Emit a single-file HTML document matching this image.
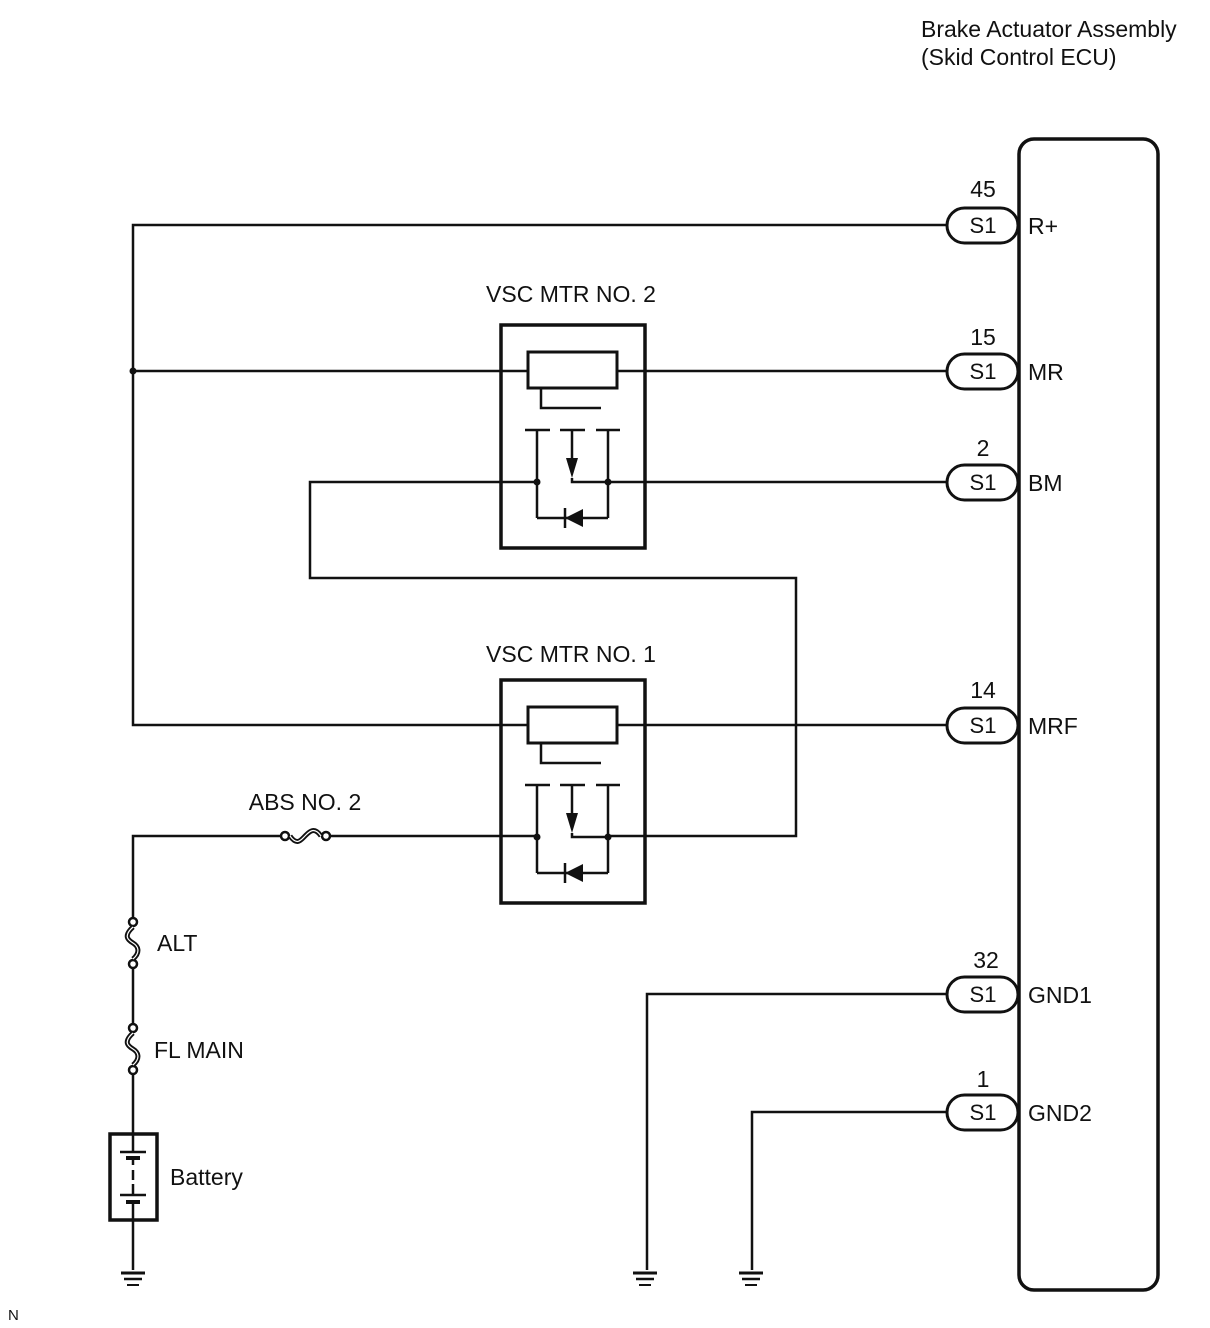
<!DOCTYPE html>
<html><head><meta charset="utf-8"><style>
html,body{margin:0;padding:0;background:#fff;}
svg{display:block;}
text{font-family:"Liberation Sans",sans-serif;fill:#111;}
</style></head><body>
<svg width="1210" height="1328" viewBox="0 0 1210 1328" xmlns="http://www.w3.org/2000/svg">
<defs>
<g id="relay" stroke="#111" fill="none">
  <rect x="501" y="325" width="144" height="223" stroke-width="3.5"/>
  <rect x="528" y="352" width="89" height="36" stroke-width="3"/>
  <polyline points="541,388 541,408 601,408" stroke-width="2.5"/>
  <line x1="525" y1="430" x2="550" y2="430" stroke-width="2.5"/>
  <line x1="560" y1="430" x2="585" y2="430" stroke-width="2.5"/>
  <line x1="596" y1="430" x2="620" y2="430" stroke-width="2.5"/>
  <line x1="537" y1="430" x2="537" y2="518" stroke-width="2.5"/>
  <line x1="608" y1="430" x2="608" y2="518" stroke-width="2.5"/>
  <line x1="572" y1="430" x2="572" y2="462" stroke-width="2.5"/>
  <polygon points="566,458 578,458 572,478" fill="#111" stroke="none"/>
  <polyline points="572,478 572,482 608,482" stroke-width="2.5"/>
  <line x1="537" y1="518" x2="608" y2="518" stroke-width="2.5"/>
  <polygon points="565,518 583,509 583,527" fill="#111" stroke="none"/>
  <line x1="565" y1="508" x2="565" y2="528" stroke-width="2.5"/>
  <circle cx="537" cy="482" r="3.5" fill="#111" stroke="none"/>
  <circle cx="608" cy="482" r="3.5" fill="#111" stroke="none"/>
</g>
<g id="gnd" stroke="#111">
  <line x1="-12" y1="0" x2="12" y2="0" stroke-width="3"/>
  <line x1="-9" y1="6" x2="9" y2="6" stroke-width="2.5"/>
  <line x1="-6" y1="12" x2="6" y2="12" stroke-width="2"/>
</g>
<g id="vfuse" fill="none" stroke="#111">
  <circle cx="0" cy="0" r="4" stroke-width="2.5" fill="#fff"/>
  <circle cx="0" cy="42" r="4" stroke-width="2.5" fill="#fff"/>
  <path d="M0,5 C-10,14 -5,18 0,21 C5,24 8,30 0,37" stroke-width="5"/>
  <path d="M0,5 C-10,14 -5,18 0,21 C5,24 8,30 0,37" stroke-width="1.2" stroke="#fff"/>
</g>
<g id="pill">
  <rect x="947" y="-17" width="71" height="35" rx="17.5" fill="#fff" stroke="#111" stroke-width="3"/>
  <text x="983" y="8" font-size="22" text-anchor="middle">S1</text>
</g>
</defs>

<g stroke="#111" stroke-width="2.5" fill="none">
  <polyline points="948,225 133,225 133,725 528,725"/>
  <line x1="133" y1="371" x2="528" y2="371"/>
  <line x1="617" y1="371" x2="948" y2="371"/>
  <line x1="608" y1="482" x2="948" y2="482"/>
  <polyline points="537,482 310,482 310,578 796,578 796,836 608,836"/>
  <line x1="617" y1="725" x2="948" y2="725"/>
  <line x1="537" y1="836" x2="330" y2="836"/>
  <polyline points="283,836 133,836 133,922"/>
  <line x1="133" y1="964" x2="133" y2="1028"/>
  <line x1="133" y1="1070" x2="133" y2="1270"/>
  <polyline points="948,994 647,994 647,1270"/>
  <polyline points="948,1112 752,1112 752,1270"/>
</g>
<circle cx="133" cy="371" r="3.5" fill="#111"/>

<use href="#relay"/>
<use href="#relay" transform="translate(0,355)"/>

<g fill="none" stroke="#111">
  <circle cx="285" cy="836" r="4" stroke-width="2.5" fill="#fff"/>
  <circle cx="326" cy="836" r="4" stroke-width="2.5" fill="#fff"/>
  <path d="M290,836 C297,846 301,840 305,836 C309,832 314,826 321,836" stroke-width="5"/>
  <path d="M290,836 C297,846 301,840 305,836 C309,832 314,826 321,836" stroke-width="1.2" stroke="#fff"/>
</g>

<use href="#vfuse" transform="translate(133,922)"/>
<use href="#vfuse" transform="translate(133,1028)"/>

<g stroke="#111">
  <rect x="110" y="1134" width="47" height="86" fill="#fff" stroke-width="3.5"/>
  <line x1="133" y1="1134" x2="133" y2="1152" stroke-width="2.5"/>
  <line x1="120" y1="1152" x2="146" y2="1152" stroke-width="2.5"/>
  <line x1="126" y1="1158" x2="140" y2="1158" stroke-width="4"/>
  <line x1="133" y1="1158" x2="133" y2="1165" stroke-width="2.5"/>
  <line x1="133" y1="1170" x2="133" y2="1180" stroke-width="2.5"/>
  <line x1="133" y1="1184" x2="133" y2="1195" stroke-width="2.5"/>
  <line x1="120" y1="1195" x2="146" y2="1195" stroke-width="2.5"/>
  <line x1="126" y1="1202" x2="140" y2="1202" stroke-width="4"/>
  <line x1="133" y1="1202" x2="133" y2="1220" stroke-width="2.5"/>
</g>

<use href="#gnd" transform="translate(133,1273)"/>
<use href="#gnd" transform="translate(645,1273)"/>
<use href="#gnd" transform="translate(751,1273)"/>

<rect x="1019" y="139" width="139" height="1151" rx="15" fill="none" stroke="#111" stroke-width="3.5"/>

<use href="#pill" transform="translate(0,225)"/>
<use href="#pill" transform="translate(0,371)"/>
<use href="#pill" transform="translate(0,482)"/>
<use href="#pill" transform="translate(0,725)"/>
<use href="#pill" transform="translate(0,994)"/>
<use href="#pill" transform="translate(0,1112)"/>

<g font-size="23">
  <text x="983" y="197" text-anchor="middle">45</text>
  <text x="983" y="345" text-anchor="middle">15</text>
  <text x="983" y="456" text-anchor="middle">2</text>
  <text x="983" y="698" text-anchor="middle">14</text>
  <text x="986" y="968" text-anchor="middle">32</text>
  <text x="983" y="1087" text-anchor="middle">1</text>
  <text x="1028" y="234">R+</text>
  <text x="1028" y="380">MR</text>
  <text x="1028" y="491">BM</text>
  <text x="1028" y="734">MRF</text>
  <text x="1028" y="1003">GND1</text>
  <text x="1028" y="1121">GND2</text>
  <text x="921" y="37">Brake Actuator Assembly</text>
  <text x="921" y="65">(Skid Control ECU)</text>
  <text x="571" y="302" text-anchor="middle">VSC MTR NO. 2</text>
  <text x="571" y="662" text-anchor="middle">VSC MTR NO. 1</text>
  <text x="305" y="810" text-anchor="middle">ABS NO. 2</text>
  <text x="157" y="951">ALT</text>
  <text x="154" y="1058">FL MAIN</text>
  <text x="170" y="1185">Battery</text>
  <text x="8" y="1320" font-size="15">N</text>
</g>
</svg>
</body></html>
